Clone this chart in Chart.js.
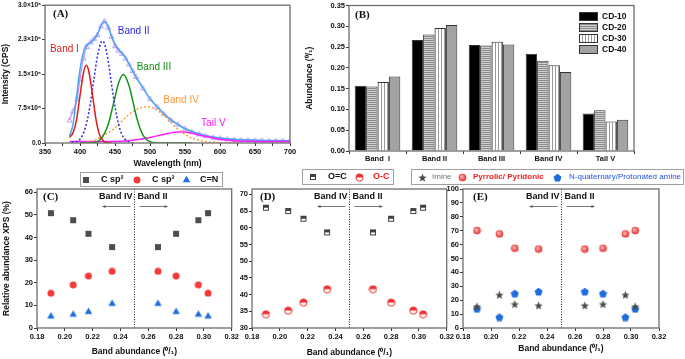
<!DOCTYPE html>
<html lang="en">
<head>
<meta charset="utf-8">
<title>CD bands</title>
<script src="https://cdn.jsdelivr.net/npm/chart.js@4.4.0/dist/chart.umd.min.js"></script>
<style>
  body { margin: 0; background: #fff; width: 685px; height: 359px; overflow: hidden; position: relative; }
  canvas { position: absolute; }
</style>
</head>
<body>
<canvas id="chartA" width="300" height="170" style="left:0px;top:0px"></canvas>
<canvas id="chartB" width="385" height="170" style="left:300px;top:0px"></canvas>
<canvas id="chartC" width="240" height="194" style="left:0px;top:165px"></canvas>
<canvas id="chartD" width="215" height="194" style="left:240px;top:165px"></canvas>
<canvas id="chartE" width="280" height="194" style="left:405px;top:165px"></canvas>

<script>
  // ---- (A) PL spectrum, intensity in 10^6 CPS ----
  var rawNm  = [385, 390, 396, 400, 405, 410, 415, 420, 425, 430, 435, 440, 445, 450, 455, 460, 465, 470, 475, 480, 490, 500, 510, 520, 530, 540, 550, 560, 570, 580, 590, 600, 610, 620, 630, 640, 650, 660, 670, 680, 690, 700];
  var rawInt = [0.50, 0.70, 0.96, 1.40, 1.85, 2.10, 2.20, 2.28, 2.36, 2.55, 2.66, 2.52, 2.32, 2.12, 2.02, 1.95, 1.85, 1.72, 1.58, 1.45, 1.20, 0.97, 0.80, 0.64, 0.51, 0.41, 0.32, 0.25, 0.20, 0.16, 0.13, 0.11, 0.09, 0.08, 0.07, 0.07, 0.06, 0.06, 0.05, 0.05, 0.05, 0.05];
  var fitNm  = [385, 390, 395, 400, 405, 410, 415, 420, 425, 430, 435, 440, 445, 450, 455, 460, 465, 470, 480, 490, 500, 510, 520, 530, 540, 550, 560, 580, 600, 620, 650, 700];
  var fitInt = [0.15, 0.40, 1.00, 1.60, 1.98, 2.15, 2.18, 2.25, 2.37, 2.55, 2.64, 2.55, 2.33, 2.15, 2.04, 1.95, 1.86, 1.72, 1.43, 1.20, 0.96, 0.79, 0.63, 0.50, 0.40, 0.31, 0.25, 0.16, 0.11, 0.08, 0.06, 0.05];
  var band1Nm  = [385, 390, 395, 400, 405, 409, 413, 418, 423, 428, 433, 438, 445];
  var band1Int = [0.12, 0.22, 0.50, 1.03, 1.53, 1.69, 1.53, 1.03, 0.50, 0.18, 0.05, 0.01, 0.00];
  var band2Nm  = [388, 395, 400, 405, 410, 415, 420, 425, 430, 432, 435, 440, 445, 450, 455, 460, 465, 470, 475];
  var band2Int = [0.02, 0.03, 0.08, 0.22, 0.47, 0.88, 1.40, 1.90, 2.19, 2.22, 2.16, 1.81, 1.29, 0.79, 0.41, 0.18, 0.07, 0.02, 0.00];
  var band3Nm  = [400, 420, 430, 440, 450, 455, 462, 470, 475, 480, 485, 490, 495, 500, 510, 560];
  var band3Int = [0.00, 0.01, 0.09, 0.39, 1.00, 1.30, 1.49, 1.25, 0.94, 0.61, 0.35, 0.17, 0.075, 0.03, 0.00, 0.00];
  var band4Nm  = [410, 420, 430, 440, 450, 460, 470, 480, 490, 497, 505, 515, 525, 535, 545, 555, 565, 580, 600, 630];
  var band4Int = [0.02, 0.06, 0.13, 0.22, 0.33, 0.48, 0.62, 0.72, 0.78, 0.79, 0.76, 0.66, 0.52, 0.37, 0.24, 0.14, 0.08, 0.03, 0.01, 0.00];
  var tailNm  = [385, 420, 460, 480, 500, 520, 540, 550, 560, 580, 600, 620, 650, 700];
  var tailInt = [0.03, 0.03, 0.04, 0.07, 0.12, 0.19, 0.24, 0.24, 0.21, 0.14, 0.08, 0.05, 0.035, 0.03];
  var yTicksA = ['0.0', '7.5×10⁵', '1.5×10⁶', '2.3×10⁶', '3.0×10⁶'];

  // ---- (B) band abundance per sample ----
  var bandNames = ['Band  I', 'Band II', 'Band III', 'Band IV', 'Tail V'];
  var samples = ['CD-10', 'CD-20', 'CD-30', 'CD-40'];
  var cd10 = [0.157, 0.267, 0.255, 0.234, 0.090];
  var cd20 = [0.155, 0.280, 0.254, 0.217, 0.098];
  var cd30 = [0.166, 0.296, 0.263, 0.206, 0.071];
  var cd40 = [0.179, 0.303, 0.256, 0.190, 0.075];

  // ---- (C)-(E) XPS relative abundance (%), CD-10 .. CD-40 ----
  var cSp2 = [35.8, 41.7, 47.7, 50.8];
  var cSp3 = [25.1, 23.0, 19.1, 15.4];
  var cN   = [11.0, 7.4, 6.2, 5.4];
  var oDouble = [58.6, 62.7, 65.0, 66.0];
  var oSingle = [41.6, 37.6, 35.2, 34.1];
  var imine    = [16.3, 17.2, 23.9, 15.6];
  var pyrrolic = [56.8, 57.4, 67.7, 70.1];
  var nQuat    = [26.3, 24.9, 7.9, 13.9];

  var SANS = '"Liberation Sans", Arial, sans-serif';
  var SERIF = '"Liberation Serif", "Times New Roman", serif';
  Chart.defaults.font.family = SANS;
  Chart.defaults.color = '#111';
  var tickFont = { family: SANS, size: 7.5, weight: 'bold' };
  var titleFont = { family: SANS, size: 8.5, weight: 'bold' };
  var letterFont = 'bold 11px ' + SERIF;

  var allCd = [cd10, cd20, cd30, cd40];
  var bandII = allCd.map(function (a) { return a[1]; });
  var bandIV = allCd.map(function (a) { return a[3]; });

  function xy(xs, ys) {
    return xs.map(function (x, i) { return { x: x, y: ys[i] }; });
  }
  // every sample is shown at its Band IV and at its Band II abundance
  function bothBands(vals) {
    var pts = [];
    for (var i = 0; i < vals.length; i++) {
      pts.push({ x: bandIV[i], y: vals[i] });
      pts.push({ x: bandII[i], y: vals[i] });
    }
    return pts;
  }
  function fixedY(w) { return function (s) { s.width = w; }; }
  function fixedX(h) { return function (s) { s.height = h; }; }

  // ---- markers ----
  function marker(size, draw) {
    var c = document.createElement('canvas');
    c.width = size; c.height = size;
    draw(c.getContext('2d'), size / 2);
    return c;
  }
  function poly(g, c, n, r, rIn, fill) {
    g.beginPath();
    var k = rIn ? n * 2 : n;
    for (var i = 0; i < k; i++) {
      var a = -Math.PI / 2 + i * Math.PI * 2 / k;
      var rr = (rIn && i % 2) ? rIn : r;
      g.lineTo(c + rr * Math.cos(a), c + 0.5 + rr * Math.sin(a));
    }
    g.closePath();
    g.fillStyle = fill; g.fill();
  }
  var mSquare = marker(8, function (g) { g.fillStyle = '#4d4d4d'; g.fillRect(1, 1, 6, 6); });
  var mCircle = marker(8, function (g, c) { g.beginPath(); g.arc(c, c, 3.5, 0, 7); g.fillStyle = '#f23c3c'; g.fill(); });
  var mTri = marker(9, function (g, c) { poly(g, c, 3, 4.3, 0, '#1f6ee0'); });
  var mHalfSq = marker(8, function (g) {
    g.fillStyle = '#fff'; g.fillRect(1, 1, 6, 6);
    g.fillStyle = '#3f3f3f'; g.fillRect(1, 1, 6, 3);
    g.strokeStyle = '#3f3f3f'; g.lineWidth = 1; g.strokeRect(1.5, 1.5, 5, 5);
  });
  var mHalfCirc = marker(9, function (g, c) {
    g.beginPath(); g.arc(c, c, 3.6, 0, 7); g.fillStyle = '#fff'; g.fill();
    g.beginPath(); g.arc(c, c, 3.6, Math.PI, 2 * Math.PI); g.fillStyle = '#f03030'; g.fill();
    g.beginPath(); g.arc(c, c, 3.6, 0, 7); g.strokeStyle = '#f03030'; g.lineWidth = 1; g.stroke();
  });
  var mStar = marker(9, function (g, c) { poly(g, c, 5, 4.4, 1.9, '#4a4a4a'); });
  var mSphere = marker(9, function (g, c) {
    var gr = g.createRadialGradient(c - 1, c - 1, 0.5, c, c, 4);
    gr.addColorStop(0, '#ffb0b0'); gr.addColorStop(1, '#e62626');
    g.beginPath(); g.arc(c, c, 3.8, 0, 7); g.fillStyle = gr; g.fill();
  });
  var mPent = marker(9, function (g, c) { poly(g, c, 5, 4.2, 0, '#1f6ee0'); });
  var mOpenTri = marker(7, function (g, c) {
    g.beginPath(); g.moveTo(c, 1); g.lineTo(6, 5.5); g.lineTo(1, 5.5); g.closePath();
    g.strokeStyle = '#b68af0'; g.lineWidth = 0.8; g.stroke();
  });

  // ---- plugins ----
  var framePlugin = {
    id: 'frame',
    afterDraw: function (chart) {
      var a = chart.chartArea, ctx = chart.ctx;
      ctx.save();
      ctx.strokeStyle = '#6e6e6e'; ctx.lineWidth = 1.3;
      ctx.strokeRect(a.left, a.top, a.right - a.left, a.bottom - a.top);
      ctx.restore();
    }
  };
  function notes(items) {
    return {
      id: 'notes',
      afterDraw: function (chart) {
        var ctx = chart.ctx, a = chart.chartArea;
        items.forEach(function (n) {
          var x, y;
          if (n.x !== undefined) {
            x = chart.scales.x.getPixelForValue(n.x);
            y = chart.scales.y.getPixelForValue(n.y);
          } else {
            x = a.left + n.dx; y = a.top + n.dy;
          }
          ctx.save();
          ctx.font = n.font; ctx.fillStyle = n.color || '#111';
          ctx.textAlign = 'left'; ctx.textBaseline = 'middle';
          ctx.fillText(n.text, x, y);
          ctx.restore();
        });
      }
    };
  }
  function arrow(ctx, x0, x1, y) {
    var d = x1 > x0 ? -1 : 1;
    ctx.beginPath(); ctx.moveTo(x0, y); ctx.lineTo(x1, y); ctx.stroke();
    ctx.beginPath(); ctx.moveTo(x1, y); ctx.lineTo(x1 + d * 3, y - 1.5); ctx.lineTo(x1 + d * 3, y + 1.5); ctx.closePath(); ctx.fill();
  }
  function divider(at) {
    return {
      id: 'divider',
      afterDatasetsDraw: function (chart) {
        var ctx = chart.ctx, a = chart.chartArea;
        var px = Math.round(chart.scales.x.getPixelForValue(at)) + 0.5;
        ctx.save();
        ctx.strokeStyle = '#222'; ctx.lineWidth = 1; ctx.setLineDash([1, 1.5]);
        ctx.beginPath(); ctx.moveTo(px, a.top); ctx.lineTo(px, a.bottom); ctx.stroke();
        ctx.setLineDash([]);
        ctx.font = 'bold 9px ' + SANS; ctx.fillStyle = '#111'; ctx.textBaseline = 'middle';
        ctx.textAlign = 'right'; ctx.fillText('Band IV', px - 2, a.top + 8);
        ctx.textAlign = 'left'; ctx.fillText('Band II', px + 3, a.top + 8);
        ctx.strokeStyle = '#555'; ctx.fillStyle = '#555'; ctx.lineWidth = 0.8;
        arrow(ctx, px - 4, px - 32, a.top + 17.5);
        arrow(ctx, px + 5, px + 33, a.top + 17.5);
        ctx.restore();
      }
    };
  }
  // boxed key above the scatter panels: [markerX, textX, font, colour] per dataset
  function keyBox(box, items) {
    return {
      id: 'keyBox',
      afterDraw: function (chart) {
        var ctx = chart.ctx, cy = box[1] + box[3] / 2 + 0.5;
        ctx.save();
        ctx.strokeStyle = '#a0a0a0'; ctx.lineWidth = 1;
        ctx.strokeRect(box[0] + 0.5, box[1] + 0.5, box[2], box[3]);
        chart.data.datasets.forEach(function (ds, i) {
          var it = items[i], m = ds.pointStyle;
          ctx.drawImage(m, Math.round(it[0] - m.width / 2), Math.round(cy - m.height / 2));
          ctx.font = it[2]; ctx.fillStyle = it[3];
          ctx.textAlign = 'left'; ctx.textBaseline = 'middle';
          ctx.fillText(ds.label, it[1], cy);
        });
        ctx.restore();
      }
    };
  }
  var barKey = {
    id: 'barKey',
    afterDraw: function (chart) {
      var ctx = chart.ctx;
      ctx.save();
      chart.data.datasets.forEach(function (ds, i) {
        var y = 12 + i * 11;
        ctx.fillStyle = ds.backgroundColor; ctx.fillRect(279, y, 19, 9);
        ctx.strokeStyle = '#333'; ctx.lineWidth = 1; ctx.strokeRect(279.5, y + 0.5, 18, 8);
        ctx.font = 'bold 8.5px ' + SANS; ctx.fillStyle = '#111';
        ctx.textAlign = 'left'; ctx.textBaseline = 'middle';
        ctx.fillText(ds.label, 302, y + 5);
      });
      ctx.restore();
    }
  };

  function axisGrid() {
    return { drawOnChartArea: false, drawTicks: true, tickLength: 3, color: '#333', lineWidth: 1 };
  }

  // ---- (A) ----
  function curve(label, xs, ys, color, dash) {
    return {
      label: label, data: xy(xs, ys), borderColor: color, borderWidth: 1.5,
      borderDash: dash, pointRadius: 0, fill: false, cubicInterpolationMode: 'monotone'
    };
  }
  new Chart(document.getElementById('chartA'), {
    type: 'line',
    data: {
      datasets: [
        curve('Band I', band1Nm, band1Int, '#e01b1b', []),
        curve('Band II', band2Nm, band2Int, '#2a2ae6', [2, 2]),
        curve('Band III', band3Nm, band3Int, '#139313', []),
        curve('Band IV', band4Nm, band4Int, '#ff9a3c', [2, 2]),
        curve('Tail V', tailNm, tailInt, '#ff1aff', []),
        curve('Fit', fitNm, fitInt, '#46a7f7', []),
        {
          label: 'Data', data: xy(rawNm, rawInt), borderColor: '#bf94f2', borderWidth: 1.2,
          pointStyle: mOpenTri, pointRadius: 2, fill: false, cubicInterpolationMode: 'monotone'
        }
      ]
    },
    options: {
      responsive: false, animation: false, devicePixelRatio: 1,
      layout: { padding: { left: 0, right: 10, top: 4, bottom: 0 } },
      plugins: { legend: { display: false }, tooltip: { enabled: false } },
      scales: {
        x: {
          type: 'linear', min: 350, max: 700, afterFit: fixedX(27),
          ticks: { stepSize: 25, autoSkip: false, maxRotation: 0, padding: 1, font: tickFont,
            callback: function (v) { return v % 50 === 0 ? String(v) : ''; } },
          grid: axisGrid(), border: { display: false },
          title: { display: true, text: 'Wavelength (nm)', font: titleFont, padding: { top: 0, bottom: 1 } }
        },
        y: {
          min: 0, max: 3, afterFit: fixedY(45),
          ticks: { stepSize: 0.75, padding: 1, font: { family: SANS, size: 6.5, weight: 'bold' },
            callback: function (v, i) { return yTicksA[i]; } },
          grid: axisGrid(), border: { display: false },
          title: { display: true, text: 'Intensity (CPS)', font: titleFont, padding: { top: 1, bottom: 0 } }
        }
      }
    },
    plugins: [framePlugin, notes([
      { text: '(A)', dx: 8, dy: 9, font: letterFont },
      { text: 'Band I', x: 357, y: 2.05, font: '10px ' + SANS, color: '#e01b1b' },
      { text: 'Band II', x: 454, y: 2.44, font: '10px ' + SANS, color: '#2a2ae6' },
      { text: 'Band III', x: 481, y: 1.66, font: '10px ' + SANS, color: '#139313' },
      { text: 'Band IV', x: 519, y: 0.93, font: '10px ' + SANS, color: '#ff9a3c' },
      { text: 'Tail V', x: 573, y: 0.43, font: '10px ' + SANS, color: '#ff1aff' }
    ])]
  });

  // ---- (B) ----
  var ctxB = document.getElementById('chartB').getContext('2d');
  function stripes(w, h, base, line, horiz) {
    var c = document.createElement('canvas');
    c.width = w; c.height = h;
    var g = c.getContext('2d');
    g.fillStyle = base; g.fillRect(0, 0, w, h);
    g.fillStyle = line;
    if (horiz) g.fillRect(0, 0, w, 1); else g.fillRect(0, 0, 1, h);
    return ctxB.createPattern(c, 'repeat');
  }
  var barFills = ['#000000', stripes(2, 2, '#d0d0d0', '#8a8a8a', true), stripes(3, 3, '#ffffff', '#9a9a9a', false), '#a3a3a3'];
  new Chart(ctxB, {
    type: 'bar',
    data: {
      labels: bandNames,
      datasets: allCd.map(function (vals, i) {
        return {
          label: samples[i], data: vals, backgroundColor: barFills[i], borderColor: '#333',
          borderWidth: 1, categoryPercentage: 0.8, barPercentage: 1.0
        };
      })
    },
    options: {
      responsive: false, animation: false, devicePixelRatio: 1,
      layout: { padding: { left: 0, right: 51, top: 5, bottom: 0 } },
      plugins: { legend: { display: false }, tooltip: { enabled: false } },
      scales: {
        x: {
          afterFit: fixedX(19), ticks: { font: tickFont, padding: 0, maxRotation: 0 },
          grid: axisGrid(), border: { display: false }
        },
        y: {
          min: 0, max: 0.35, afterFit: fixedY(49),
          ticks: { stepSize: 0.05, padding: 1, font: tickFont, callback: function (v) { return v.toFixed(2); } },
          grid: axisGrid(), border: { display: false },
          title: { display: true, text: 'Abundance (⁰/₁)', font: titleFont, padding: { top: 5, bottom: 0 } }
        }
      }
    },
    plugins: [framePlugin, barKey, notes([{ text: '(B)', dx: 6, dy: 10, font: letterFont }])]
  });

  // ---- (C), (D), (E) ----
  function scatterSet(label, vals, m) {
    return { label: label, data: bothBands(vals), pointStyle: m, pointRadius: 3.5 };
  }
  function scatterOpts(o) {
    return {
      responsive: false, animation: false, devicePixelRatio: 1,
      layout: { padding: { left: 0, right: o.right, top: 24, bottom: 0 } },
      plugins: { legend: { display: false }, tooltip: { enabled: false } },
      scales: {
        x: {
          type: 'linear', min: 0.18, max: 0.32, afterFit: fixedX(31),
          ticks: { stepSize: 0.02, padding: 1, maxRotation: 0, font: tickFont,
            callback: function (v) { return v.toFixed(2); } },
          grid: axisGrid(), border: { display: false },
          title: { display: true, text: 'Band abundance (⁰/₁)', font: titleFont, padding: { top: 0, bottom: o.titleGap } }
        },
        y: {
          min: o.min, max: o.max, afterFit: fixedY(o.left),
          ticks: { stepSize: o.step, padding: 1, font: tickFont, includeBounds: false },
          grid: axisGrid(), border: { display: false },
          title: { display: !!o.title, text: o.title || '', font: titleFont, padding: { top: 2, bottom: 0 } }
        }
      }
    };
  }
  var keyFont = 'bold 9px ' + SANS;

  new Chart(document.getElementById('chartC'), {
    type: 'scatter',
    data: { datasets: [
      scatterSet('C sp²', cSp2, mSquare),
      scatterSet('C sp³', cSp3, mCircle),
      scatterSet('C=N', cN, mTri)
    ] },
    options: scatterOpts({ left: 37, right: 7, min: 0, max: 61.5, step: 10, titleGap: 2, title: 'Relative abundance XPS (%)' }),
    plugins: [framePlugin, divider(0.25),
      keyBox([80, 7, 142, 14], [[86, 101, keyFont, '#111'], [137, 152, keyFont, '#111'], [186, 200, keyFont, '#111']]),
      notes([{ text: '(C)', dx: 6, dy: 8, font: letterFont }])]
  });

  new Chart(document.getElementById('chartD'), {
    type: 'scatter',
    data: { datasets: [
      scatterSet('O=C', oDouble, mHalfSq),
      scatterSet('O-C', oSingle, mHalfCirc)
    ] },
    options: scatterOpts({ left: 12, right: 8, min: 30, max: 71.6, step: 5, titleGap: 1 }),
    plugins: [framePlugin, divider(0.25),
      keyBox([62, 4, 91, 15], [[73, 88, keyFont, '#111'], [119, 133, keyFont, '#f02020']]),
      notes([{ text: '(D)', dx: 8, dy: 8, font: letterFont }])]
  });

  new Chart(document.getElementById('chartE'), {
    type: 'scatter',
    data: { datasets: [
      scatterSet('Imine', imine, mStar),
      scatterSet('Pyrrolic/ Pyridonic', pyrrolic, mSphere),
      scatterSet('N-quaternary/Protonated amine', nQuat, mPent)
    ] },
    options: scatterOpts({ left: 58, right: 26, min: 0, max: 100, step: 10, titleGap: 5 }),
    plugins: [framePlugin, divider(0.25),
      keyBox([6, 4, 272, 15], [[17, 27, '8px ' + SANS, '#777'], [57, 68, 'bold 8px ' + SANS, '#f02020'], [152, 164, '8px ' + SANS, '#2050e0']]),
      notes([{ text: '(E)', dx: 10, dy: 8, font: letterFont }])]
  });
</script>
</body>
</html>
